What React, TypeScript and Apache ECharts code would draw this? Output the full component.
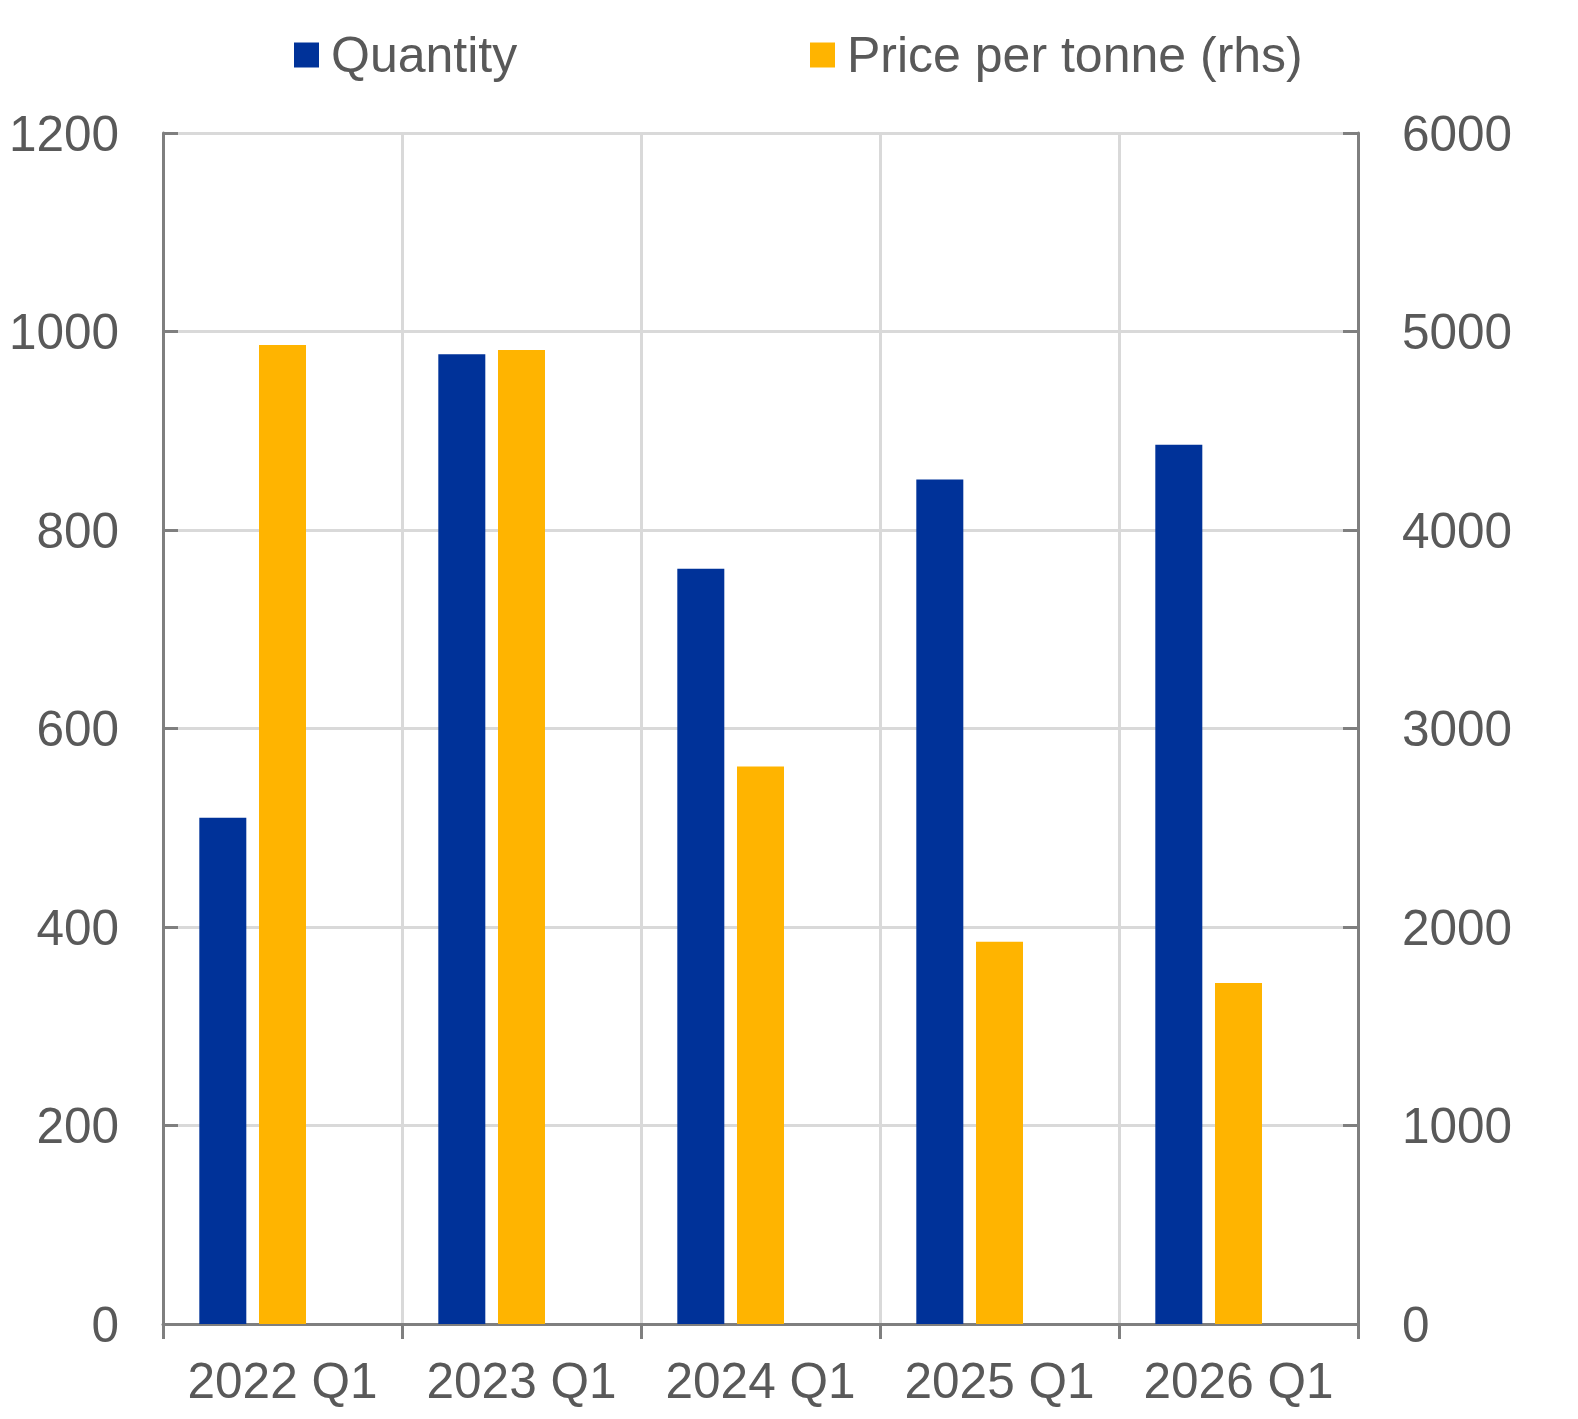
import React, { useEffect, useRef } from "react";
import * as echarts from "echarts";

const categories = ["2022 Q1", "2023 Q1", "2024 Q1", "2025 Q1", "2026 Q1"];
const quantity = [510, 977, 761, 851, 886];
const pricePerTonne = [4932, 4907, 2808, 1926, 1718];
const leftTicks = { min: 0, max: 1200, interval: 200 };
const rightTicks = { min: 0, max: 6000, interval: 1000 };

const FONT = "'Liberation Sans', Arial, Helvetica, sans-serif";
const TEXT = "#595959";
const AXIS = "#7f7f7f";
const GRID = "#d9d9d9";
const BLUE = "#003299";
const YELLOW = "#ffb400";

const plain = (v: number) => String(v);

export default function App() {
  const ref = useRef<HTMLDivElement>(null);
  useEffect(() => {
    if (!ref.current) return;
    const chart = echarts.init(ref.current, undefined, { renderer: "svg" });
    const legendText = { fontSize: 50, color: TEXT, fontFamily: FONT, padding: [0, 0, 0, 7] };
    chart.setOption({
      animation: false,
      backgroundColor: "#ffffff",
      textStyle: { fontFamily: FONT },
      legend: [
        {
          data: ["Quantity"],
          left: 294,
          top: 30,
          padding: 0,
          itemWidth: 25,
          itemHeight: 25,
          icon: "rect",
          textStyle: legendText,
        },
        {
          data: ["Price per tonne (rhs)"],
          left: 810,
          top: 30,
          padding: 0,
          itemWidth: 25,
          itemHeight: 25,
          icon: "rect",
          textStyle: legendText,
        },
      ],
      grid: {
        left: 163,
        right: 220,
        top: 133,
        bottom: 95,
        containLabel: false,
        outerBoundsMode: "none",
      },
      xAxis: {
        type: "category",
        data: categories,
        boundaryGap: true,
        axisLine: { show: true, lineStyle: { color: AXIS, width: 3 } },
        axisTick: { show: true, inside: false, length: 15, lineStyle: { color: AXIS, width: 3 } },
        splitLine: { show: true, lineStyle: { color: GRID, width: 3 } },
        axisLabel: { fontSize: 49.5, color: TEXT, fontFamily: FONT, margin: 31, interval: 0 },
      },
      yAxis: [
        {
          type: "value",
          position: "left",
          min: leftTicks.min,
          max: leftTicks.max,
          interval: leftTicks.interval,
          axisLine: { show: true, lineStyle: { color: AXIS, width: 3 } },
          axisTick: { show: true, inside: true, length: 15, lineStyle: { color: AXIS, width: 3 } },
          splitLine: { show: true, lineStyle: { color: GRID, width: 3 } },
          axisLabel: { fontSize: 49.5, color: TEXT, fontFamily: FONT, margin: 44, formatter: plain },
        },
        {
          type: "value",
          position: "right",
          min: rightTicks.min,
          max: rightTicks.max,
          interval: rightTicks.interval,
          axisLine: { show: true, lineStyle: { color: AXIS, width: 3 } },
          axisTick: { show: true, inside: true, length: 15, lineStyle: { color: AXIS, width: 3 } },
          splitLine: { show: false },
          axisLabel: { fontSize: 49.5, color: TEXT, fontFamily: FONT, margin: 44, formatter: plain },
        },
      ],
      series: [
        {
          name: "Quantity",
          type: "bar",
          yAxisIndex: 0,
          data: quantity,
          barWidth: 47,
          barGap: "27%",
          itemStyle: { color: BLUE },
        },
        {
          name: "Price per tonne (rhs)",
          type: "bar",
          yAxisIndex: 1,
          data: pricePerTonne,
          barWidth: 47,
          barGap: "27%",
          itemStyle: { color: YELLOW },
        },
        {
          name: "spacer",
          type: "bar",
          yAxisIndex: 0,
          data: [],
          barWidth: 47,
          barGap: "27%",
          itemStyle: { color: "transparent" },
        },
      ],
    });
    return () => chart.dispose();
  }, []);
  return (
    <div
      ref={ref}
      style={{ position: "fixed", left: 0, top: 0, width: 1578, height: 1419, background: "#fff" }}
    />
  );
}
